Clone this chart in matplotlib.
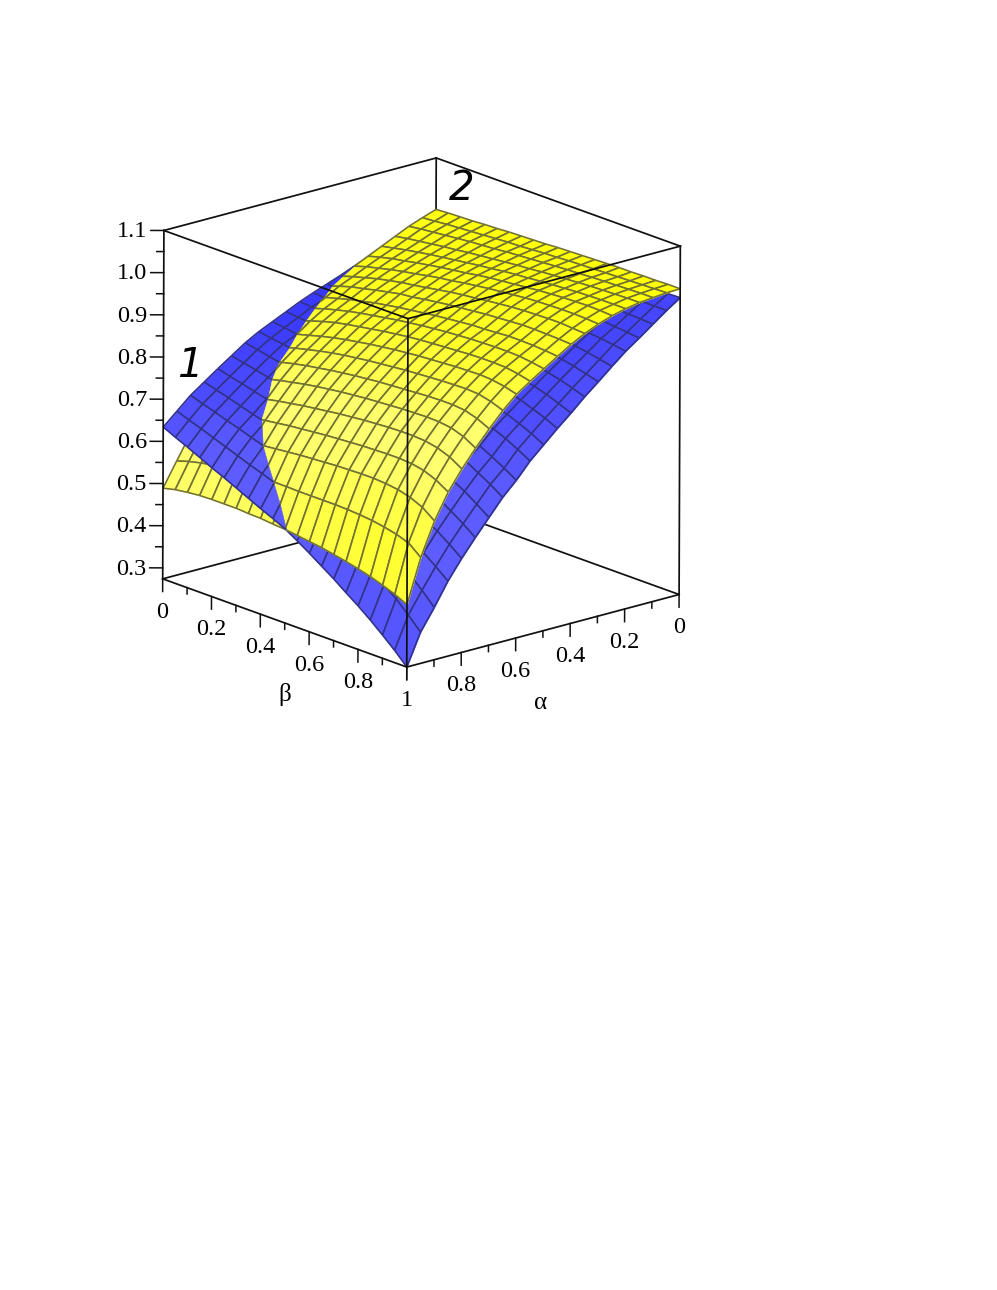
"""Two intersecting surfaces over alpha and beta, drawn back to front."""

import matplotlib

matplotlib.use("Agg")

import matplotlib.pyplot as plt
import numpy as np
from mpl_toolkits.mplot3d import proj3d
from mpl_toolkits.mplot3d.art3d import Line3DCollection, Poly3DCollection

alpha = [1.0, 0.95, 0.9, 0.85, 0.8, 0.75, 0.7, 0.65, 0.6, 0.55, 0.5, 0.45, 0.4, 0.35, 0.3, 0.25, 0.2, 0.15, 0.1, 0.05, 0.0]
beta = [0.0, 0.05, 0.1, 0.15, 0.2, 0.25, 0.3, 0.35, 0.4, 0.45, 0.5, 0.55, 0.6, 0.65, 0.7, 0.75, 0.8, 0.85, 0.9, 0.95, 1.0]

# rows follow alpha, columns follow beta
surface_yellow = [
    [.489, .496, .500, .503, .504, .504, .504, .502, .501, .498, .496, .492, .488, .484, .478, .472, .465, .457, .447, .436, .422],
    [.545, .554, .561, .566, .570, .573, .575, .577, .578, .578, .577, .577, .577, .577, .576, .574, .571, .566, .559, .549, .525],
    [.600, .610, .618, .624, .629, .632, .635, .638, .641, .644, .646, .648, .650, .651, .652, .652, .650, .646, .638, .625, .603],
    [.639, .650, .659, .665, .671, .676, .680, .684, .687, .690, .693, .695, .697, .699, .700, .701, .701, .699, .693, .681, .663],
    [.672, .684, .693, .701, .707, .713, .718, .723, .727, .731, .735, .738, .741, .743, .745, .746, .746, .744, .738, .727, .709],
    [.706, .718, .728, .736, .743, .749, .755, .760, .764, .768, .771, .774, .776, .778, .780, .781, .782, .781, .777, .767, .750],
    [.737, .749, .759, .767, .774, .780, .785, .790, .794, .798, .801, .804, .806, .808, .810, .812, .813, .813, .810, .801, .787],
    [.761, .773, .784, .792, .799, .806, .812, .817, .821, .825, .828, .831, .834, .836, .838, .840, .841, .842, .840, .833, .822],
    [.783, .795, .806, .814, .822, .829, .835, .840, .845, .849, .853, .856, .859, .861, .863, .865, .866, .867, .865, .860, .852],
    [.808, .819, .829, .838, .846, .852, .857, .862, .867, .871, .875, .878, .880, .882, .884, .886, .887, .887, .886, .881, .874],
    [.828, .840, .849, .857, .864, .870, .875, .880, .885, .889, .893, .896, .899, .901, .903, .904, .905, .905, .904, .900, .895],
    [.846, .857, .865, .873, .879, .886, .891, .896, .900, .904, .908, .911, .914, .917, .918, .920, .922, .922, .921, .919, .916],
    [.865, .875, .884, .890, .897, .903, .909, .912, .917, .921, .925, .928, .931, .934, .936, .938, .940, .940, .939, .938, .936],
    [.880, .889, .897, .905, .911, .917, .921, .926, .931, .936, .940, .943, .947, .950, .953, .955, .956, .957, .957, .955, .953],
    [.895, .904, .911, .918, .924, .929, .935, .940, .944, .949, .953, .957, .960, .963, .966, .968, .969, .970, .970, .969, .967],
    [.910, .918, .925, .930, .936, .941, .946, .950, .954, .959, .963, .966, .969, .972, .975, .977, .979, .980, .981, .980, .978],
    [.925, .931, .937, .942, .947, .951, .955, .959, .963, .966, .970, .973, .975, .978, .980, .982, .984, .985, .986, .986, .986],
    [.940, .945, .949, .953, .957, .960, .964, .967, .970, .973, .976, .978, .981, .983, .985, .987, .989, .990, .991, .992, .992],
    [.955, .959, .962, .965, .968, .971, .973, .975, .978, .980, .982, .984, .986, .988, .989, .991, .992, .993, .994, .995, .995],
    [.967, .969, .972, .974, .976, .978, .980, .982, .983, .985, .987, .988, .990, .991, .992, .993, .994, .995, .996, .997, .998],
    [.978, .980, .981, .982, .984, .985, .987, .988, .989, .990, .992, .993, .994, .995, .996, .997, .997, .998, .998, .999, .999],
]
surface_blue = [
    [.634, .620, .607, .593, .579, .566, .552, .538, .524, .511, .497, .479, .460, .440, .420, .398, .377, .354, .329, .303, .274],
    [.663, .652, .642, .631, .620, .609, .598, .588, .577, .566, .555, .540, .524, .507, .489, .470, .450, .429, .406, .378, .348],
    [.692, .682, .673, .663, .654, .644, .634, .624, .615, .605, .596, .582, .567, .551, .535, .516, .497, .477, .455, .428, .398],
    [.715, .706, .698, .689, .680, .672, .663, .655, .646, .637, .628, .615, .601, .586, .571, .554, .537, .518, .498, .476, .452],
    [.738, .730, .723, .715, .708, .700, .693, .685, .678, .670, .662, .650, .637, .623, .609, .593, .577, .560, .541, .520, .497],
    [.760, .753, .747, .740, .734, .727, .720, .713, .707, .700, .694, .683, .671, .658, .645, .630, .614, .598, .580, .560, .538],
    [.782, .776, .770, .764, .759, .753, .747, .741, .735, .730, .724, .713, .702, .690, .678, .663, .650, .634, .618, .598, .577],
    [.800, .795, .791, .785, .780, .776, .771, .766, .760, .756, .751, .742, .732, .720, .709, .696, .684, .670, .653, .636, .616],
    [.815, .811, .806, .802, .798, .794, .790, .786, .781, .777, .773, .764, .755, .745, .734, .723, .711, .698, .683, .666, .648],
    [.830, .827, .824, .819, .816, .813, .810, .806, .802, .799, .796, .788, .780, .771, .762, .751, .741, .730, .717, .702, .685],
    [.845, .843, .839, .837, .833, .831, .827, .825, .821, .819, .815, .809, .801, .794, .785, .776, .766, .756, .744, .731, .715],
    [.858, .855, .853, .851, .848, .846, .843, .840, .839, .836, .834, .828, .821, .815, .807, .799, .791, .781, .770, .759, .745],
    [.870, .868, .866, .863, .862, .860, .858, .856, .853, .851, .850, .845, .839, .833, .827, .819, .812, .805, .796, .785, .773],
    [.882, .880, .879, .877, .876, .874, .872, .871, .869, .868, .867, .863, .858, .853, .848, .842, .836, .829, .822, .813, .803],
    [.895, .894, .893, .891, .890, .889, .888, .886, .885, .884, .883, .879, .875, .872, .868, .862, .857, .852, .846, .838, .830],
    [.907, .907, .905, .905, .903, .903, .902, .901, .900, .899, .899, .896, .894, .890, .887, .883, .880, .875, .870, .864, .858],
    [.920, .919, .919, .919, .918, .917, .917, .916, .916, .915, .915, .913, .911, .908, .907, .904, .901, .897, .894, .890, .885],
    [.932, .932, .932, .931, .931, .931, .930, .930, .929, .929, .929, .928, .927, .924, .923, .921, .919, .917, .914, .911, .908],
    [.944, .944, .944, .944, .944, .944, .944, .944, .944, .944, .944, .943, .943, .942, .941, .940, .938, .937, .935, .934, .932],
    [.955, .955, .955, .955, .955, .956, .956, .956, .956, .956, .956, .956, .956, .956, .956, .956, .956, .956, .956, .956, .956],
    [.965, .966, .966, .967, .968, .968, .969, .970, .970, .971, .972, .972, .973, .974, .974, .975, .975, .976, .977, .977, .978],
]

z_bottom = 0.274
z_top = 1.1
z_ticks = [0.3, 0.4, 0.5, 0.6, 0.7, 0.8, 0.9, 1.0, 1.1]
z_minor_ticks = [0.35, 0.45, 0.55, 0.65, 0.75, 0.85, 0.95, 1.05]
plane_ticks = [0.0, 0.2, 0.4, 0.6, 0.8, 1.0]
plane_minor_ticks = [0.1, 0.3, 0.5, 0.7, 0.9]
plane_labels = ["0", "0.2", "0.4", "0.6", "0.8", "1"]

SERIF = "Liberation Serif"
BOX_COLOR = "#101010"


def clip_cell(corners, sign):
    """Keep the part of a cell where one surface lies above the other."""
    verts = []
    segments = []
    for index, first in enumerate(corners):
        second = corners[(index + 1) % len(corners)]
        first_gap = sign * (first[2] - first[3])
        second_gap = sign * (second[2] - second[3])
        start = first if first_gap >= 0 else None
        end = second if second_gap >= 0 else None
        if start is not None:
            verts.append(first)
        if first_gap * second_gap < 0:
            share = first_gap / (first_gap - second_gap)
            cross = tuple(p + share * (q - p) for p, q in zip(first, second))
            verts.append(cross)
            if start is None:
                start = cross
            else:
                end = cross
        if start is not None and end is not None:
            segments.append((start, end))
    return verts, segments


def cell_slope(surface, i, j):
    """Rise of a surface along alpha, taken over the neighbouring rows too."""
    low = max(i - 1, 0)
    high = min(i + 2, len(alpha) - 1)
    rise = surface[high, j:j + 2].mean() - surface[low, j:j + 2].mean()
    return rise / (alpha[low] - alpha[high])


def cell_color(slope, base, pale):
    width = 0.4 if slope < 0.8 else 1.2
    strength = np.exp(-(((slope - 0.8) / width) ** 2))
    return tuple((b + strength * (p - b)) / 255 for b, p in zip(base, pale))


def draw_surfaces(ax):
    yellow = np.array(surface_yellow)
    blue = np.array(surface_blue)
    order = 10
    for i in range(len(alpha) - 2, -1, -1):
        for j in range(len(beta) - 1):
            cell = [(i, j), (i, j + 1), (i + 1, j + 1), (i + 1, j)]
            corners = [(alpha[r], beta[c], yellow[r, c], blue[r, c]) for r, c in cell]
            color_y = cell_color(cell_slope(yellow, i, j), (255, 255, 5), (255, 255, 112))
            color_b = cell_color(cell_slope(blue, i, j), (50, 50, 255), (92, 92, 255))

            regions = []
            for sign in (1, -1):
                verts, segments = clip_cell(corners, sign)
                if len(verts) >= 3:
                    depth = np.mean([v[0] + v[1] for v in verts])
                    regions.append((depth, sign, verts, segments))
            regions.sort(key=lambda region: region[0])

            for _, sign, verts, segments in regions:
                layers = [(3, color_b, "#323288"), (2, color_y, "#727232")]
                if sign < 0:
                    layers.reverse()
                for height, color, line_color in layers:
                    poly = [(v[1], v[0], v[height]) for v in verts]
                    ax.add_collection3d(
                        Poly3DCollection([poly], facecolors=[color], edgecolors=[color], linewidths=0.4, zorder=order),
                        autolim=False,
                    )
                    order += 1
                    lines = [[(p[1], p[0], p[height]), (q[1], q[0], q[height])] for p, q in segments]
                    ax.add_collection3d(
                        Line3DCollection(lines, colors=line_color, linewidths=1.15, zorder=order),
                        autolim=False,
                    )
                    order += 1
    return order


def draw_box(ax, front_order):
    lo_a, hi_a = 1.0, 0.0
    lo_b, hi_b = 0.0, 1.0
    back = [
        ([lo_b, lo_b], [lo_a, hi_a], [z_bottom, z_bottom]),
        ([lo_b, hi_b], [hi_a, hi_a], [z_bottom, z_bottom]),
        ([lo_b, lo_b], [hi_a, hi_a], [z_bottom, z_top]),
        ([lo_b, lo_b], [lo_a, hi_a], [z_top, z_top]),
        ([lo_b, hi_b], [hi_a, hi_a], [z_top, z_top]),
    ]
    front = [
        ([lo_b, hi_b], [lo_a, lo_a], [z_bottom, z_bottom]),
        ([hi_b, hi_b], [lo_a, hi_a], [z_bottom, z_bottom]),
        ([lo_b, hi_b], [lo_a, lo_a], [z_top, z_top]),
        ([hi_b, hi_b], [lo_a, hi_a], [z_top, z_top]),
        ([lo_b, lo_b], [lo_a, lo_a], [z_bottom, z_top]),
        ([hi_b, hi_b], [lo_a, lo_a], [z_bottom, z_top]),
        ([hi_b, hi_b], [hi_a, hi_a], [z_bottom, z_top]),
    ]
    for xs, ys, zs in back:
        ax.plot(xs, ys, zs, color=BOX_COLOR, linewidth=1.25, zorder=1)
    for xs, ys, zs in front:
        ax.plot(xs, ys, zs, color=BOX_COLOR, linewidth=1.25, zorder=front_order)


def draw_ticks(ax, order):
    tick_major = 0.03
    tick_minor = 0.015
    for ticks, length in ((plane_ticks, tick_major), (plane_minor_ticks, tick_minor)):
        for tick in ticks:
            low = z_bottom - length
            ax.plot([tick, tick], [1, 1], [z_bottom, low], color=BOX_COLOR, linewidth=1.1, zorder=order)
            ax.plot([1, 1], [tick, tick], [z_bottom, low], color=BOX_COLOR, linewidth=1.1, zorder=order)
    # these offsets run straight left on the page
    for tick in z_ticks:
        ax.plot([0, -0.0229], [1, 1.0272], [tick, tick], color=BOX_COLOR, linewidth=1.1, zorder=order)
    for tick in z_minor_ticks:
        ax.plot([0, -0.0125], [1, 1.0148], [tick, tick], color=BOX_COLOR, linewidth=1.1, zorder=order)


def draw_tick_labels(ax, order):
    """Place the labels after the view is fixed, so they sit on the page."""
    matrix = ax.get_proj()
    label_drop = 0.079
    for tick, label in zip(plane_ticks, plane_labels):
        x, y, _ = proj3d.proj_transform(tick, 1, z_bottom - label_drop, matrix)
        ax.text2D(x, y, label, transform=ax.transData, family=SERIF, fontsize=17.5,
                  ha="center", va="center", zorder=order)
        if tick < 1:
            x, y, _ = proj3d.proj_transform(1, tick, z_bottom - label_drop, matrix)
            ax.text2D(x, y, label, transform=ax.transData, family=SERIF, fontsize=17.5,
                      ha="center", va="center", zorder=order)
    for tick in z_ticks:
        x, y, _ = proj3d.proj_transform(-0.0285, 1.034, tick - 0.003, matrix)
        ax.text2D(x, y, f"{tick:.1f}", transform=ax.transData, family=SERIF, fontsize=17.5,
                  ha="right", va="center", zorder=order)


fig = plt.figure(figsize=(9.97, 12.9), dpi=100)
side = 900
center_x, center_y = 421.5, 1290 - 412.5
left = center_x - side * 0.95 / 1.85
bottom = center_y - side * 0.95 / 1.85
ax = fig.add_axes([left / 997, bottom / 1290, side / 997, side / 1290], projection="3d")
ax.set_proj_type("ortho")
ax.computed_zorder = False
ax.view_init(elev=18.1, azim=-41, roll=-0.2)
ax.set_box_aspect((372, 360, 366), zoom=616.3 / side)
ax.set_axis_off()

last_order = draw_surfaces(ax)
draw_box(ax, last_order + 1)
draw_ticks(ax, last_order + 2)

ax.set_xlim(0, 1, view_margin=0)
ax.set_ylim(1, 0, view_margin=0)
ax.set_zlim(z_bottom, z_top, view_margin=0)
draw_tick_labels(ax, last_order + 3)

fig.text(285 / 997, 1 - 695 / 1290, "β", family=SERIF, fontsize=18, ha="center", va="center")
fig.text(541 / 997, 1 - 703 / 1290, "α", family=SERIF, fontsize=18, ha="center", va="center")
fig.text(190 / 997, 1 - 366 / 1290, "1", family="DejaVu Sans", style="italic", fontsize=29, ha="center", va="center")
fig.text(462 / 997, 1 - 189 / 1290, "2", family="DejaVu Sans", style="italic", fontsize=29, ha="center", va="center")

fig.savefig("out.png", dpi=100)
